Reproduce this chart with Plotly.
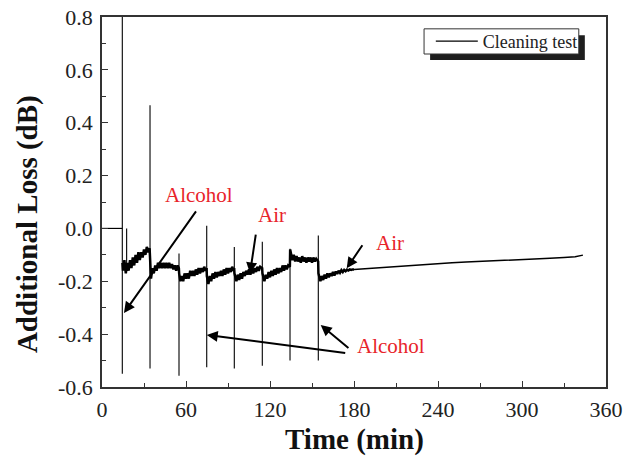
import plotly.graph_objects as go

# ---- data ----
# initial flat section before cleaning starts
pre_t = [0, 5, 10, 14.5]
pre_v = [0.0, 0.0, 0.0, 0.0]

# noisy baseline during cleaning cycles (min, dB)
base_t = [14.6, 15, 16, 17, 18, 19, 20, 21, 22, 23, 24, 25, 26, 27, 28, 29, 30, 31, 32, 33, 34,
          34.4, 35, 36, 37, 38, 39, 40, 41, 42, 43, 44, 45, 46, 47, 48, 49, 50, 51, 52, 53, 54, 54.9,
          55.1, 56, 57, 58, 59, 60, 61, 62, 63, 64, 65, 66, 67, 68, 69, 70, 71, 72, 73, 74, 74.7,
          74.9, 76, 77, 78, 79, 80, 81, 82, 83, 84, 85, 86, 87, 88, 89, 90, 91, 92, 93, 94, 94.4,
          94.6, 96, 97, 98, 99, 100, 101, 102, 103, 104, 105, 106, 107, 108, 109, 110, 111, 112, 113, 114.4,
          114.6, 116, 117, 118, 119, 120, 121, 122, 123, 124, 125, 126, 127, 128, 129, 130, 131, 132, 133, 134.2,
          134.4, 135, 136, 137, 138, 139, 140, 141, 142, 143, 144, 145, 146, 147, 148, 149, 150, 151, 152, 153, 154.4,
          154.6, 156, 157, 158, 159, 160, 161, 162, 163, 164, 165, 166, 167, 168, 169, 170, 171, 172, 173, 174, 175,
          176, 177, 178, 179, 180]
base_v = [-0.13, -0.16, -0.12, -0.17, -0.13, -0.16, -0.12, -0.15, -0.11, -0.14, -0.10, -0.13, -0.09, -0.12, -0.09, -0.11, -0.08, -0.10, -0.07, -0.09, -0.075,
          -0.17, -0.19, -0.15, -0.17, -0.14, -0.16, -0.13, -0.15, -0.13, -0.15, -0.13, -0.15, -0.13, -0.15, -0.13, -0.15, -0.135, -0.155, -0.14, -0.16, -0.14, -0.15,
          -0.17, -0.20, -0.18, -0.20, -0.17, -0.19, -0.17, -0.19, -0.16, -0.18, -0.16, -0.18, -0.155, -0.175, -0.15, -0.17, -0.15, -0.165, -0.145, -0.16, -0.15,
          -0.18, -0.21, -0.18, -0.20, -0.17, -0.19, -0.165, -0.185, -0.165, -0.18, -0.16, -0.18, -0.155, -0.175, -0.15, -0.17, -0.15, -0.165, -0.145, -0.16, -0.15,
          -0.17, -0.20, -0.175, -0.195, -0.17, -0.19, -0.165, -0.18, -0.16, -0.175, -0.155, -0.175, -0.15, -0.17, -0.15, -0.165, -0.145, -0.16, -0.145, -0.15,
          -0.17, -0.20, -0.175, -0.19, -0.165, -0.185, -0.16, -0.18, -0.155, -0.175, -0.15, -0.17, -0.15, -0.165, -0.14, -0.16, -0.14, -0.155, -0.14, -0.145,
          -0.08, -0.10, -0.12, -0.10, -0.125, -0.105, -0.125, -0.11, -0.13, -0.105, -0.125, -0.11, -0.13, -0.11, -0.125, -0.11, -0.13, -0.11, -0.125, -0.115, -0.125,
          -0.17, -0.20, -0.18, -0.195, -0.175, -0.19, -0.17, -0.185, -0.17, -0.18, -0.165, -0.178, -0.163, -0.172, -0.16, -0.168, -0.158, -0.165, -0.157, -0.162, -0.156,
          -0.159, -0.155, -0.157, -0.155, -0.155]

# smooth tail after the last cleaning cycle
tail_t = [180, 190, 200, 210, 220, 230, 240, 250, 260, 270, 280, 290, 300, 310, 320, 330, 338, 343.5]
tail_v = [-0.155, -0.151, -0.148, -0.145, -0.141, -0.137, -0.133, -0.130, -0.127, -0.125, -0.122, -0.120, -0.118, -0.115, -0.113, -0.110, -0.107, -0.101]

# spikes at each liquid/air switching (min, peak high, peak low)
spike_t = [14.5, 17.6, 34.3, 55.0, 74.8, 94.5, 114.5, 134.3, 154.5]
spike_hi = [0.85, 0.0, 0.466, -0.095, 0.01, -0.07, -0.05, -0.077, -0.027]
spike_lo = [-0.55, -0.15, -0.53, -0.557, -0.525, -0.53, -0.52, -0.50, -0.50]

x_ticks = [0, 60, 120, 180, 240, 300, 360]
y_ticks = [-0.6, -0.4, -0.2, 0.0, 0.2, 0.4, 0.6, 0.8]

SERIF = "Liberation Serif, Times New Roman, serif"
RED = "#e8242a"

fig = go.Figure()

# spikes as vertical segments
sx, sy = [], []
for t, hi, lo in zip(spike_t, spike_hi, spike_lo):
    sx += [t, t, None]
    sy += [hi, lo, None]

fig.add_trace(go.Scatter(x=pre_t, y=pre_v, mode="lines",
                         line=dict(color="black", width=1.2),
                         name="Cleaning test", legendgroup="c", showlegend=True))
fig.add_trace(go.Scatter(x=sx, y=sy, mode="lines", line=dict(color="black", width=1.1),
                         legendgroup="c", showlegend=False, connectgaps=False))
fig.add_trace(go.Scatter(x=base_t, y=base_v, mode="lines", line=dict(color="black", width=2.5),
                         legendgroup="c", showlegend=False))
fig.add_trace(go.Scatter(x=tail_t, y=tail_v, mode="lines", line=dict(color="black", width=1.5),
                         legendgroup="c", showlegend=False))

# text labels
labels = [("Alcohol", 69.3, 0.127), ("Air", 121.4, 0.051), ("Air", 205.7, -0.055), ("Alcohol", 206.4, -0.445)]
for txt, tx, ty in labels:
    fig.add_annotation(x=tx, y=ty, text=txt, showarrow=False,
                       font=dict(family=SERIF, size=21, color=RED))

# arrows (tail -> head)
arrows = [((67.9, 0.07), (15.7, -0.32)),
          ((110.0, -0.018), (105.7, -0.17)),
          ((186.7, -0.058), (174.8, -0.151)),
          ((174.8, -0.472), (74.8, -0.403)),
          ((177.1, -0.457), (156.2, -0.365))]
for (ax_, ay_), (hx, hy) in arrows:
    fig.add_annotation(x=hx, y=hy, ax=ax_, ay=ay_, xref="x", yref="y", axref="x", ayref="y",
                       text="", showarrow=True, arrowhead=2, arrowsize=1.1, arrowwidth=2,
                       arrowcolor="black", standoff=0, startstandoff=0)

# axis titles
fig.add_annotation(x=0.5, y=-0.143, xref="paper", yref="paper", text="<b>Time (min)</b>",
                   showarrow=False, xanchor="center", yanchor="middle",
                   font=dict(family=SERIF, size=29, color="#111111"))
fig.add_annotation(x=-0.149, y=0.44, xref="paper", yref="paper", text="<b>Additional Loss (dB)</b>",
                   showarrow=False, xanchor="center", yanchor="middle", textangle=-90,
                   font=dict(family=SERIF, size=29, color="#111111"))

# legend frame with drop shadow (legend itself is transparent on top)
fig.add_shape(type="rect", xref="paper", yref="paper",
              x0=0.651, x1=0.958, y0=0.884, y1=0.951,
              fillcolor="#1e1e1e", line=dict(width=0), layer="above")
fig.add_shape(type="rect", xref="paper", yref="paper",
              x0=0.639, x1=0.946, y0=0.900, y1=0.968,
              fillcolor="white", line=dict(width=1, color="#333333"), layer="above")

axis_common = dict(showline=True, linecolor="#333333", linewidth=1.5, mirror=True,
                   ticks="inside", ticklen=6, tickwidth=1.3, tickcolor="#333333",
                   showgrid=False, zeroline=False, automargin=False, ticklabeloverflow="allow",
                   tickfont=dict(family=SERIF, size=22, color="#222222"))

fig.update_layout(
    width=637, height=464,
    margin=dict(l=102, r=31, t=17, b=77, autoexpand=False),
    paper_bgcolor="white", plot_bgcolor="white",
    xaxis=dict(range=[0, 360], tickvals=x_ticks, ticktext=[str(v) for v in x_ticks],
               minor=dict(ticks="inside", dtick=30, ticklen=4, tickcolor="#333333"),
               ticklabelstandoff=2,
               **axis_common),
    yaxis=dict(range=[-0.6, 0.8], tickvals=y_ticks, ticktext=[f"{v:.1f}" for v in y_ticks],
               minor=dict(ticks="inside", dtick=0.1, ticklen=4, tickcolor="#333333"),
               ticklabelstandoff=3,
               **axis_common),
    legend=dict(x=0.954, y=0.934, xanchor="right", yanchor="middle",
                bgcolor="rgba(0,0,0,0)", borderwidth=0,
                font=dict(family=SERIF, size=18, color="#222222"),
                itemwidth=42, tracegroupgap=0),
    showlegend=True,
)

# remove the default page margin so the figure fills the window exactly
fig.write_html("out.html", config={"displayModeBar": False},
               post_script="document.body.style.margin='0';document.body.style.overflow='hidden';")
